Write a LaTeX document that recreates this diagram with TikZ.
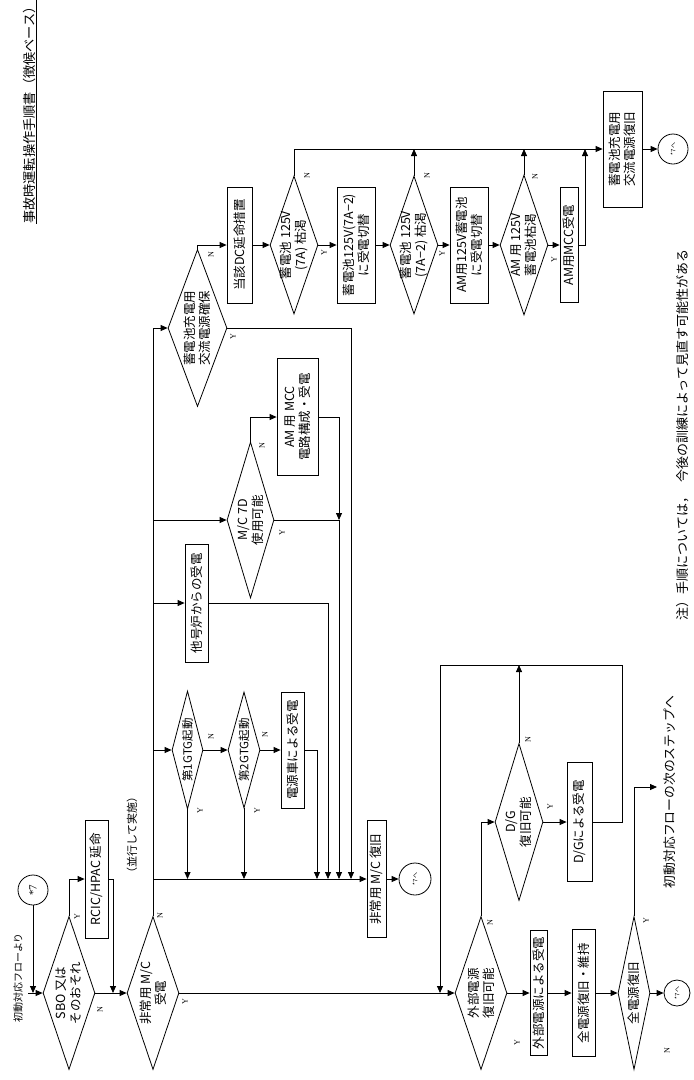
\documentclass[tikz,border=0pt]{standalone}
\usepackage{fontspec}
\setmainfont{Noto Sans CJK JP}
\newfontfamily\ynfont{Liberation Serif}
\usetikzlibrary{shapes.geometric,arrows.meta,calc}
\newcommand\myfont{\fontsize{12.5}{15}\selectfont}
\begin{document}
\begin{tikzpicture}[x=1pt,y=-1pt,line width=0.8pt,
  box/.style={draw,rotate=90,inner sep=1pt,align=center,font=\myfont},
  dia/.style={draw,diamond,rotate=90,inner sep=0pt},
  dtx/.style={rotate=90,align=center,font=\myfont,inner sep=0pt},
  yn/.style={rotate=90,font=\ynfont\fontsize{8}{8}\selectfont,inner sep=0pt},
  circ/.style={draw,circle,inner sep=0pt},
  arr/.style={-{Triangle[length=7pt,width=6pt]}},
  txt/.style={rotate=90,inner sep=0pt}]
\fill[white] (0,0) rectangle (694,1080);
\useasboundingbox (0,0) rectangle (694,1080);

% texts
\node[txt,font=\fontsize{13.2}{14}\selectfont] (title) at (30,112) {\underline{事故時運転操作手順書（徴候ベース）}};
\node[txt,font=\fontsize{10}{12}\selectfont] (intxt) at (18,978) {初動対応フローより};
\node[txt,font=\fontsize{11}{12}\selectfont] (par) at (132,835) {（並行して実施）};
\node[txt,font=\fontsize{12.8}{14}\selectfont] (nexttxt) at (670,792) {初動対応フローの次のステップへ};
\node[txt,font=\fontsize{13}{14}\selectfont] (note) at (683,435) {注）手順については，\hspace{0.6em}今後の訓練によって見直す可能性がある};

% circles
\node[circ,minimum size=30pt,font=\ynfont\fontsize{11}{11}\selectfont] (c7a) at (33,890) {\rotatebox{90}{*7}};
\node[circ,minimum size=30pt,font=\fontsize{6}{6}\selectfont] (c7b) at (673,149) {\rotatebox{90}{*7へ}};
\node[circ,minimum size=32pt,font=\fontsize{6}{6}\selectfont] (c7c) at (415,879) {\rotatebox{90}{*7へ}};
\node[circ,minimum size=26pt,font=\fontsize{6}{6}\selectfont] (c7d) at (677,993) {\rotatebox{90}{*7へ}};

% diamonds
\node[dia,minimum width=153pt,minimum height=52pt] (sbo) at (69,993) {};
\node[dtx] (sbot) at (sbo) {SBO 又は\\そのおそれ};
\node[dia,minimum width=153pt,minimum height=52pt] (emg) at (153,993) {};
\node[dtx] (emgt) at (emg) {非常用 M/C\\受電};
\node[dia,minimum width=118pt,minimum height=31pt] (gtg1) at (187.5,750) {};
\node[dtx,font=\fontsize{11.5}{13}\selectfont] (gtg1t) at (gtg1) {第1GTG起動};
\node[dia,minimum width=116pt,minimum height=32pt] (gtg2) at (244,750) {};
\node[dtx,font=\fontsize{11.5}{13}\selectfont] (gtg2t) at (gtg2) {第2GTG起動};
\node[dia,minimum width=156pt,minimum height=47pt] (mc7d) at (250.5,520) {};
\node[dtx] (mc7dt) at (mc7d) {M/C 7D\\使用可能};
\node[dia,minimum width=157pt,minimum height=59pt] (chg) at (197.5,328) {};
\node[dtx] (chgt) at (chg) {蓄電池充電用\\交流電源確保};
\node[dia,minimum width=138pt,minimum height=48pt] (b7a) at (294,245) {};
\node[dtx] (b7at) at (b7a) {蓄電池 125V\\(7A) 枯渇};
\node[dia,minimum width=138pt,minimum height=48pt] (b7b) at (414,245) {};
\node[dtx] (b7bt) at (b7b) {蓄電池 125V\\(7A−2) 枯渇};
\node[dia,minimum width=140pt,minimum height=48pt] (amb) at (524,245) {};
\node[dtx] (ambt) at (amb) {AM 用 125V\\蓄電池枯渇};
\node[dia,minimum width=153pt,minimum height=52pt] (ext) at (481,993) {};
\node[dtx] (extt) at (ext) {外部電源\\復旧可能};
\node[dia,minimum width=157pt,minimum height=48pt] (dg) at (519,822) {};
\node[dtx] (dgt) at (dg) {D/G\\復旧可能};
\node[dia,minimum width=153pt,minimum height=32pt] (all) at (634,993) {};
\node[dtx] (allt) at (all) {全電源復旧};

% boxes
\node[box,minimum width=118pt,minimum height=23pt] (rcic) at (96.5,879) {RCIC/HPAC 延命};
\node[box,minimum width=116pt,minimum height=23pt] (car) at (292.5,750) {電源車による受電};
\node[box,minimum width=118pt,minimum height=23pt] (other) at (196.5,603) {他号炉からの受電};
\node[box,minimum width=117pt,minimum height=41pt] (ammcc) at (297.5,417) {AM 用 MCC\\電路構成・受電};
\node[box,minimum width=116pt,minimum height=25pt] (dc) at (239.5,245) {当該DC延命措置};
\node[box,minimum width=116pt,minimum height=38pt] (sw) at (356,245) {蓄電池125V(7A−2)\\に受電切替};
\node[box,minimum width=116pt,minimum height=38pt] (amsw) at (469,245) {AM用125V蓄電池\\に受電切替};
\node[box,minimum width=115pt,minimum height=18pt] (ammcc2) at (569,245) {AM用MCC受電};
\node[box,minimum width=116pt,minimum height=39pt] (rest) at (622.5,149) {蓄電池充電用\\交流電源復旧};
\node[box,minimum width=117pt,minimum height=19pt] (emgrest) at (376.5,879) {非常用 M/C 復旧};
\node[box,minimum width=119pt,minimum height=25pt] (dgbox) at (579.5,822) {D/Gによる受電};
\node[box,minimum width=125pt,minimum height=17pt] (extbox) at (538.5,993) {外部電源による受電};
\node[box,minimum width=127pt,minimum height=23pt] (allbox) at (583.5,993) {全電源復旧・維持};

% coordinates
\coordinate (inpt) at (28,993);
\coordinate (j1) at (113,993);
\coordinate (m1) at (317,879);
\coordinate (m2) at (328,879);
\coordinate (m3) at (339,879);
\coordinate (m4) at (351,879);
\coordinate (r1) at (585,149);
\coordinate (l1) at (622,665);
\coordinate (l2) at (440,993);
\coordinate (nx) at (657,787);

% Y/N labels
\node[yn] (ly1) at (77,917) {Y};
\node[yn] (ln1) at (100,1010) {N};
\node[yn] (ln2) at (160,916) {N};
\node[yn] (ly2) at (185,1002) {Y};
\node[yn] (ln3) at (211,737) {N};
\node[yn] (ly3) at (200,811) {Y};
\node[yn] (ln4) at (265,735) {N};
\node[yn] (ly4) at (257,811) {Y};
\node[yn] (ln5) at (262,446) {N};
\node[yn] (ly5) at (282,533) {Y};
\node[yn] (ln6) at (211,255) {N};
\node[yn] (ly6) at (233,337) {Y};
\node[yn] (ln7) at (307,176) {N};
\node[yn] (ly7) at (324,253) {Y};
\node[yn] (ln8) at (427,176) {N};
\node[yn] (ly8) at (442,254) {Y};
\node[yn] (ln9) at (535,177) {N};
\node[yn] (ly9) at (554,260) {Y};
\node[yn] (ln10) at (490,923) {N};
\node[yn] (ly10) at (517,1043) {Y};
\node[yn] (ln11) at (528,740) {N};
\node[yn] (ly11) at (550,807) {Y};
\node[yn] (ly12) at (646,921) {Y};
\node[yn] (ln12) at (667,1051) {N};

% connectors
\draw[arr] (c7a) -- (c7a |- sbo.north);
\draw[arr] (inpt) -- (sbo.north);
\draw[arr] (sbo.east) |- (rcic.north);
\draw[arr] (rcic.south) -| (j1);
\draw[arr] (sbo.south) -- (emg.north);
\draw[arr] (emg.east) |- (chg.north);
\draw[arr] (emg.east |- emgrest.north) -- (emgrest.north);
\draw[arr] (emg.east |- gtg1.north) -- (gtg1.north);
\draw[arr] (emg.east |- other.north) -- (other.north);
\draw[arr] (emg.east |- mc7d.north) -- (mc7d.north);
\draw[arr] (gtg1.south) -- (gtg2.north);
\draw[arr] (gtg1.west) -- (gtg1.west |- emgrest.north);
\draw[arr] (gtg2.west) -- (gtg2.west |- emgrest.north);
\draw[arr] (gtg2.south) -- (car.north);
\draw[arr] (car.south) -| (m1);
\draw[arr] (other.south) -| (m2);
\draw[arr] (mc7d.south) -| (m3);
\draw[arr] (mc7d.east) |- (ammcc.north);
\draw[arr] (ammcc.south) -| (mc7d.south -| m3);
\draw[arr] (chg.south) -| (m4);
\draw[arr] (chg.east) |- (dc.north);
\draw[arr] (dc.south) -- (b7a.north);
\draw[arr] (b7a.south) -- (sw.north);
\draw[arr] (sw.south) -- (b7b.north);
\draw[arr] (b7b.south) -- (amsw.north);
\draw[arr] (amsw.south) -- (amb.north);
\draw[arr] (amb.south) -- (ammcc2.north);
\draw[arr] (b7a.east) |- (rest.north);
\draw[arr] (b7b.east) -- (b7b.east |- rest.north);
\draw[arr] (amb.east) -- (amb.east |- rest.north);
\draw[arr] (ammcc2.south) -| (r1);
\draw[arr] (rest.south) -- (c7b);
\draw[arr] (emgrest.south) -- (c7c);
\draw[arr] (emg.south) -- (ext.north);
\draw[arr] (dgbox.south) -| (l1) -| (l2);
\draw[arr] (dg.east) -- (dg.east |- l1);
\draw[arr] (ext.east) |- (dg.north);
\draw[arr] (dg.south) -- (dgbox.north);
\draw[arr] (ext.south) -- (extbox.north);
\draw[arr] (extbox.south) -- (allbox.north);
\draw[arr] (allbox.south) -- (all.north);
\draw[arr] (all.south) -- (c7d);
\draw[arr] (all.east) |- (nx);
\end{tikzpicture}
\end{document}
